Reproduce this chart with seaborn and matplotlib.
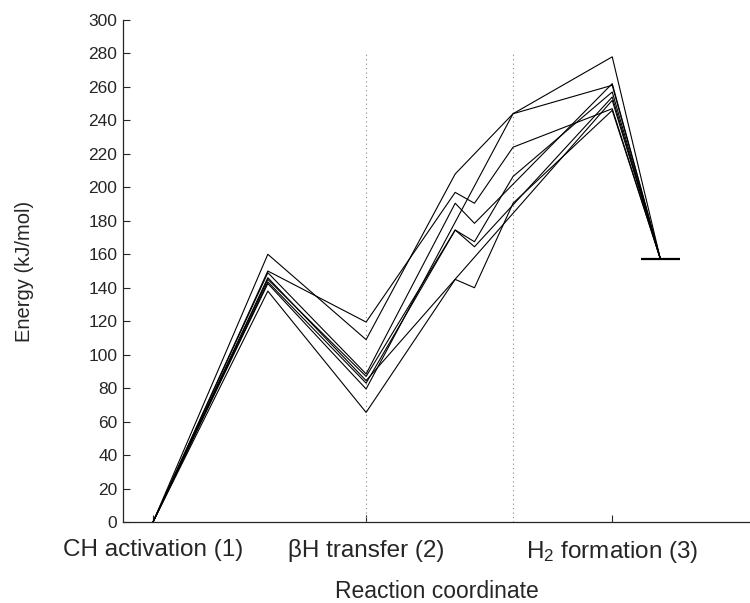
import pandas as pd
import matplotlib.pyplot as plt
import seaborn as sns

# x positions of the profile points (reaction coordinate units)
stage_x = [0, 2.5, 4.64, 6.58, 7.0, 7.84, 10.0, 11.05]
tick_x = [0, 4.64, 10.0]
tick_labels = ["CH activation (1)", "βH transfer (2)", "H$_2$ formation (3)"]
divider_x = [4.64, 7.84]
product_energy = 157

# energy profiles (kJ/mol), None = no point at that stage
path_a = [0, 150, 119.5, 197, 190.5, 224, 247, 157]
path_b = [0, 160, 109, 208, None, 244, 278, 157]
path_c = [0, 138, 65.5, 145, 140, 190.5, 246, 157]
path_d = [0, 149, 88.5, 190.5, 178.5, None, 262, 157]
path_e = [0, 145, 87, 174.5, 167.5, 206.5, 257, 157]
path_f = [0, 143.5, 83, 174.5, 164.5, None, 254, 157]
path_g = [0, 142.5, 79.5, None, None, 244, 261, 157]
path_h = [0, 146, 84.5, None, None, None, 252, 157]

paths = {"a": path_a, "b": path_b, "c": path_c, "d": path_d,
         "e": path_e, "f": path_f, "g": path_g, "h": path_h}

rows = []
for name, vals in paths.items():
    for x, v in zip(stage_x, vals):
        if v is not None:
            rows.append({"path": name, "x": x, "energy": v})
df = pd.DataFrame(rows)

sns.set_style("ticks")
plt.rcParams["font.family"] = ["Liberation Sans", "DejaVu Sans"]
plt.rcParams["mathtext.fontset"] = "custom"
plt.rcParams["mathtext.rm"] = "Liberation Sans"
plt.rcParams["mathtext.it"] = "Liberation Sans"

fig = plt.figure(figsize=(7.5, 6.03), dpi=100)
ax = fig.add_axes([0.164, 0.1343, 0.836, 0.8325])

for xd in divider_x:
    ax.vlines(xd, 0, 280, colors="#888888", linestyles=(0, (1, 3)), linewidth=0.8)

sns.lineplot(data=df, x="x", y="energy", units="path", estimator=None,
             sort=False, color="black", linewidth=0.8, ax=ax)

ax.hlines(product_energy, 10.63, 11.48, colors="black", linewidth=1.6)

ax.set_xlim(-0.654, 13.0)
ax.set_ylim(0, 300)
ax.set_yticks(range(0, 301, 20))
ax.set_xticks(tick_x)
ax.set_xticklabels(tick_labels, fontsize=17.5)
ax.tick_params(axis="y", labelsize=12.5, direction="in", length=5, pad=4)
ax.tick_params(axis="x", direction="in", length=5, pad=12)
ax.set_xlabel("Reaction coordinate", fontsize=16.5)
ax.set_ylabel("Energy (kJ/mol)", fontsize=14.5)
ax.xaxis.set_label_coords(0.5, -0.115)
ax.yaxis.set_label_coords(-0.142, 0.5)

sns.despine(ax=ax)
for s in ["left", "bottom"]:
    ax.spines[s].set_linewidth(0.9)

plt.savefig("out.png", dpi=100)
